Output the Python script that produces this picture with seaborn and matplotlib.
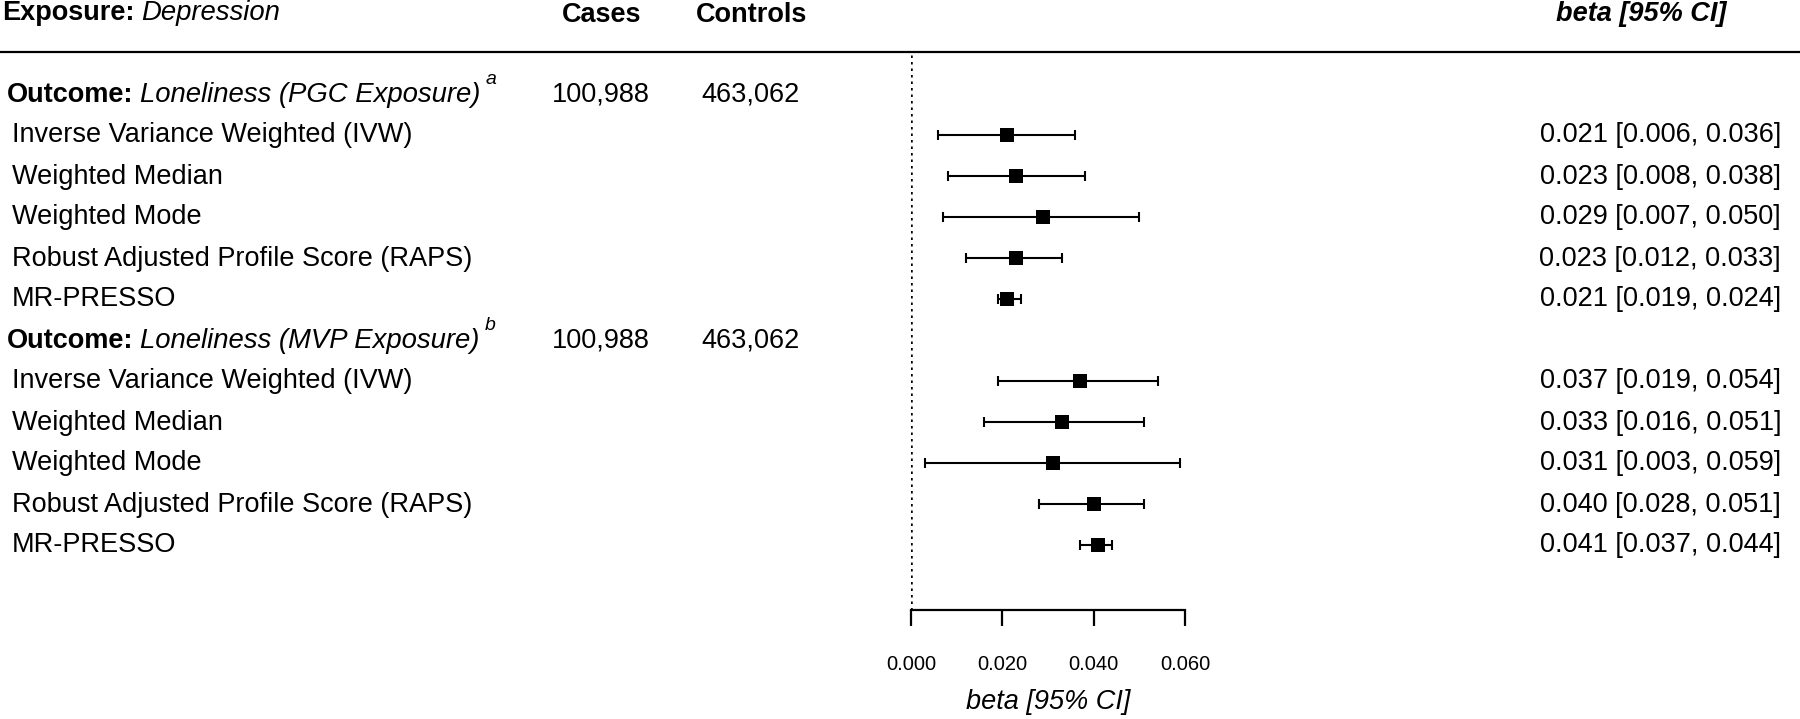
import matplotlib
matplotlib.use("Agg")
import matplotlib.pyplot as plt
import matplotlib.transforms as mtransforms
from matplotlib.lines import Line2D
import pandas as pd
import seaborn as sns

# data
methods = [
    "Inverse Variance Weighted (IVW)",
    "Weighted Median",
    "Weighted Mode",
    "Robust Adjusted Profile Score (RAPS)",
    "MR-PRESSO",
]
outcomes = ["Loneliness (PGC Exposure)", "Loneliness (MVP Exposure)"]
footnotes = ["a", "b"]
cases = ["100,988", "100,988"]
controls = ["463,062", "463,062"]

pgc_beta = [0.021, 0.023, 0.029, 0.023, 0.021]
pgc_lo = [0.006, 0.008, 0.007, 0.012, 0.019]
pgc_hi = [0.036, 0.038, 0.050, 0.033, 0.024]

mvp_beta = [0.037, 0.033, 0.031, 0.040, 0.041]
mvp_lo = [0.019, 0.016, 0.003, 0.028, 0.037]
mvp_hi = [0.054, 0.051, 0.059, 0.051, 0.044]

xticks = [0.000, 0.020, 0.040, 0.060]

# one row per estimate, outcome headers take rows 0 and 6
records = []
for k, (b, lo, hi) in enumerate([(pgc_beta, pgc_lo, pgc_hi), (mvp_beta, mvp_lo, mvp_hi)]):
    for i, m in enumerate(methods):
        records.append(dict(outcome=k, method=m, beta=b[i], lo=lo[i], hi=hi[i],
                            row=k * (len(methods) + 1) + 1 + i))
df = pd.DataFrame(records)
outcome_rows = [k * (len(methods) + 1) for k in range(len(outcomes))]

sns.set_theme(style="white")
plt.rcParams["font.family"] = ["Liberation Sans", "DejaVu Sans"]
plt.rcParams["text.color"] = "black"
plt.rcParams["axes.labelcolor"] = "black"
plt.rcParams["xtick.color"] = "black"

W, H = 1800, 719
fig = plt.figure(figsize=(W / 100, H / 100), dpi=100)


def fx(px):
    return px / W


def fy(py):
    return 1 - py / H


# forest panel
ax_left, ax_right, ax_top, ax_bottom = 911, 1185, 52, 610
row0_px, row_step = 94, 41
ax = fig.add_axes([fx(ax_left), fy(ax_bottom), (ax_right - ax_left) / W, (ax_bottom - ax_top) / H])

ax.errorbar(df["beta"], df["row"], xerr=[df["beta"] - df["lo"], df["hi"] - df["beta"]],
            fmt="none", ecolor="black", elinewidth=1.5, capsize=3.6, capthick=1.5, clip_on=False)
sns.scatterplot(data=df, x="beta", y="row", marker="s", s=110, color="black",
                edgecolor="black", linewidth=0, ax=ax, zorder=3, clip_on=False, legend=False)
ax.axvline(0, color="black", ls=(0, (1, 1.6)), lw=1.8)

ax.set_xlim(0, 0.06)
ax.set_ylim((ax_bottom - row0_px) / row_step, (ax_top - row0_px) / row_step)
for s in ["top", "left", "right"]:
    ax.spines[s].set_visible(False)
ax.spines["bottom"].set_linewidth(1.6)
ax.spines["bottom"].set_color("black")
ax.set_xticks(xticks)
ax.set_xticklabels([f"{t:.3f}" for t in xticks])
ax.tick_params(axis="x", direction="out", bottom=True, length=11.5, width=1.6,
               pad=21, labelsize=14.5, colors="black")
ax.set_yticks([])
ax.set_xlabel("")
ax.set_ylabel("")

fig.text(fx(1048), fy(709), "beta [95% CI]", style="italic", fontsize=19.5,
         ha="center", va="baseline")

# table text, rows follow the forest panel's y scale
blend = mtransforms.blended_transform_factory(fig.transFigure, ax.transData)
row_tr = mtransforms.offset_copy(blend, fig=fig, y=-7.5, units="dots")
sup_tr = mtransforms.offset_copy(blend, fig=fig, y=-7.5 + 17, units="dots")
renderer = fig.canvas.get_renderer()
fs = 19.5

for k, r in enumerate(outcome_rows):
    t1 = fig.text(fx(7), r, "Outcome:", weight="bold", fontsize=fs, transform=row_tr, va="baseline")
    x1 = t1.get_window_extent(renderer).x1 + 7
    t2 = fig.text(fx(x1), r, outcomes[k], style="italic", fontsize=fs + 0.3,
                  transform=row_tr, va="baseline")
    x2 = t2.get_window_extent(renderer).x1 + 5
    fig.text(fx(x2), r, footnotes[k], style="italic", fontsize=14, transform=sup_tr, va="baseline")
    fig.text(fx(601), r, cases[k], fontsize=fs, transform=row_tr, va="baseline", ha="center")
    fig.text(fx(751), r, controls[k], fontsize=fs, transform=row_tr, va="baseline", ha="center")

for _, d in df.iterrows():
    fig.text(fx(12), d["row"], d["method"], fontsize=fs, transform=row_tr, va="baseline")
    fig.text(fx(1781), d["row"], f"{d['beta']:.3f} [{d['lo']:.3f}, {d['hi']:.3f}]",
             fontsize=fs, transform=row_tr, va="baseline", ha="right")

# header
h1 = fig.text(fx(2), fy(20), "Exposure:", weight="bold", fontsize=fs, va="baseline")
hx = h1.get_window_extent(renderer).x1 + 7
fig.text(fx(hx), fy(20), "Depression", style="italic", fontsize=fs + 0.3, va="baseline")
fig.text(fx(602), fy(22), "Cases", weight="bold", fontsize=fs, va="baseline", ha="center")
fig.text(fx(752), fy(22), "Controls", weight="bold", fontsize=fs, va="baseline", ha="center")
fig.text(fx(1641), fy(21), "beta [95% CI]", weight="bold", style="italic", fontsize=fs,
         va="baseline", ha="center")
fig.add_artist(Line2D([0, 1], [fy(52.3), fy(52.3)], transform=fig.transFigure, color="black", lw=1.6))

fig.savefig("out.png", dpi=100, facecolor="white")
